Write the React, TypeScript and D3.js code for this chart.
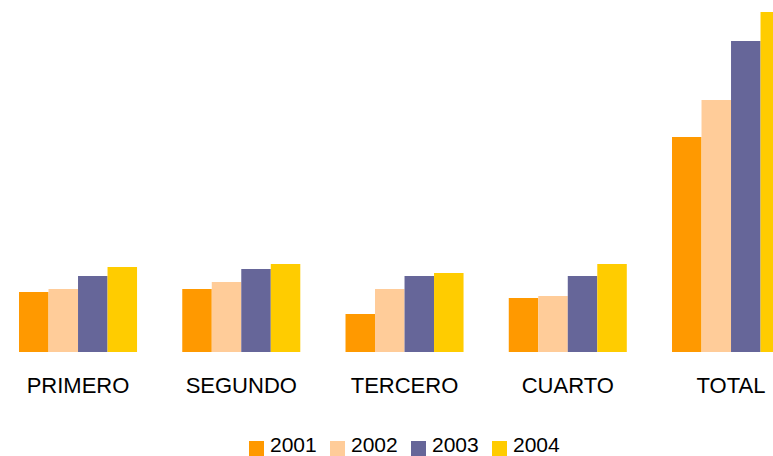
import { useEffect, useRef } from "react";
import * as d3 from "d3";

const categories = ["PRIMERO", "SEGUNDO", "TERCERO", "CUARTO", "TOTAL"];
const years = ["2001", "2002", "2003", "2004"];
const colors = ["#FF9900", "#FFCC99", "#666699", "#FFCC00"];

const v2001 = [60, 63, 38, 54, 215];
const v2002 = [63, 70, 63, 56, 252];
const v2003 = [76, 83, 76, 76, 311];
const v2004 = [85, 88, 79, 88, 340];
const series = [v2001, v2002, v2003, v2004];

export default function App() {
  const width = 773;
  const height = 456;
  const svgRef = useRef<SVGSVGElement>(null);

  useEffect(() => {
    const svg = d3.select(svgRef.current);
    svg.selectAll("*").remove();

    const x = d3
      .scaleBand()
      .domain(categories)
      .range([-3.6, -3.6 + 5 * 163.25])
      .paddingInner(0.277)
      .paddingOuter(0.1385);

    const xs = d3
      .scaleBand()
      .domain(years)
      .range([0, x.bandwidth()]);

    const y = d3.scaleLinear().domain([0, 340]).range([352, 12]);

    const font = "'Liberation Sans', Arial, sans-serif";

    const groups = svg
      .append("g")
      .selectAll("g")
      .data(categories)
      .join("g")
      .attr("transform", (c) => `translate(${x(c)},0)`);

    groups
      .selectAll("rect")
      .data((c) => series.map((s, k) => ({ year: years[k], value: s[categories.indexOf(c)], k })))
      .join("rect")
      .attr("x", (d) => xs(d.year)!)
      .attr("width", xs.bandwidth())
      .attr("y", (d) => y(d.value))
      .attr("height", (d) => y(0) - y(d.value))
      .attr("fill", (d) => colors[d.k]);

    svg
      .append("g")
      .selectAll("text")
      .data(categories)
      .join("text")
      .attr("x", (c) => x(c)! + x.bandwidth() / 2)
      .attr("y", 393)
      .attr("text-anchor", "middle")
      .attr("font-family", font)
      .attr("font-size", 22)
      .attr("fill", "#000")
      .text((c) => c);

    // legend row at the bottom
    const legend = svg
      .append("g")
      .selectAll("g")
      .data(years)
      .join("g")
      .attr("transform", (d, i) => `translate(${249 + i * 81},0)`);

    legend
      .append("rect")
      .attr("x", 0)
      .attr("y", 441)
      .attr("width", 15)
      .attr("height", 15)
      .attr("fill", (d, i) => colors[i]);

    legend
      .append("text")
      .attr("x", 21)
      .attr("y", 452)
      .attr("font-family", font)
      .attr("font-size", 21)
      .attr("fill", "#000")
      .text((d) => d);
  }, []);

  return (
    <svg
      ref={svgRef}
      width={width}
      height={height}
      style={{ position: "absolute", left: 0, top: 0, background: "#fff" }}
    ></svg>
  );
}
